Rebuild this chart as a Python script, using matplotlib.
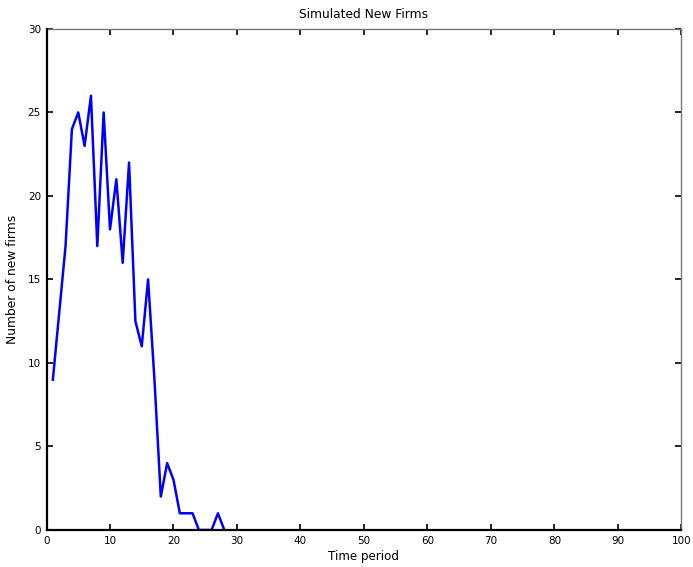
import matplotlib
matplotlib.use("Agg")
import matplotlib.pyplot as plt

# Simulated count of new firms per time period
periods = [1, 2, 3, 4, 5, 6, 7, 8, 9, 10, 11, 12, 13, 14,
           15, 16, 17, 18, 19, 20, 21, 22, 23, 24, 25, 26, 27, 28]
new_firms = [9, 13, 17, 24, 25, 23, 26, 17, 25, 18, 21, 16, 22, 12.5,
             11, 15, 9, 2, 4, 3, 1, 1, 1, 0, 0, 0, 1, 0]

x_ticks = [0, 10, 20, 30, 40, 50, 60, 70, 80, 90, 100]
y_ticks = [0, 5, 10, 15, 20, 25, 30]

fig = plt.figure(figsize=(6.93, 5.67), dpi=100)
ax = fig.add_axes([0.0671, 0.0653, 0.9163, 0.8836])

ax.plot(periods, new_firms, color="#0000ff", linewidth=1.8, zorder=2)

ax.set_xlim(0, 100)
ax.set_ylim(0, 30)
ax.set_xticks(x_ticks)
ax.set_yticks(y_ticks)
ax.tick_params(direction="in", length=4, width=1.2, labelsize=7.5,
               top=True, right=True, pad=4)

for side in ("left", "bottom"):
    ax.spines[side].set_linewidth(1.6)
    ax.spines[side].set_color("black")
    ax.spines[side].set_zorder(3)
for side in ("top", "right"):
    ax.spines[side].set_linewidth(1.0)
    ax.spines[side].set_color("#777777")

ax.set_title("Simulated New Firms", fontsize=8.8, pad=8)
ax.set_xlabel("Time period", fontsize=8.6, labelpad=3)
ax.set_ylabel("Number of new firms", fontsize=8.8, labelpad=6)

fig.savefig("out.png", dpi=100)
